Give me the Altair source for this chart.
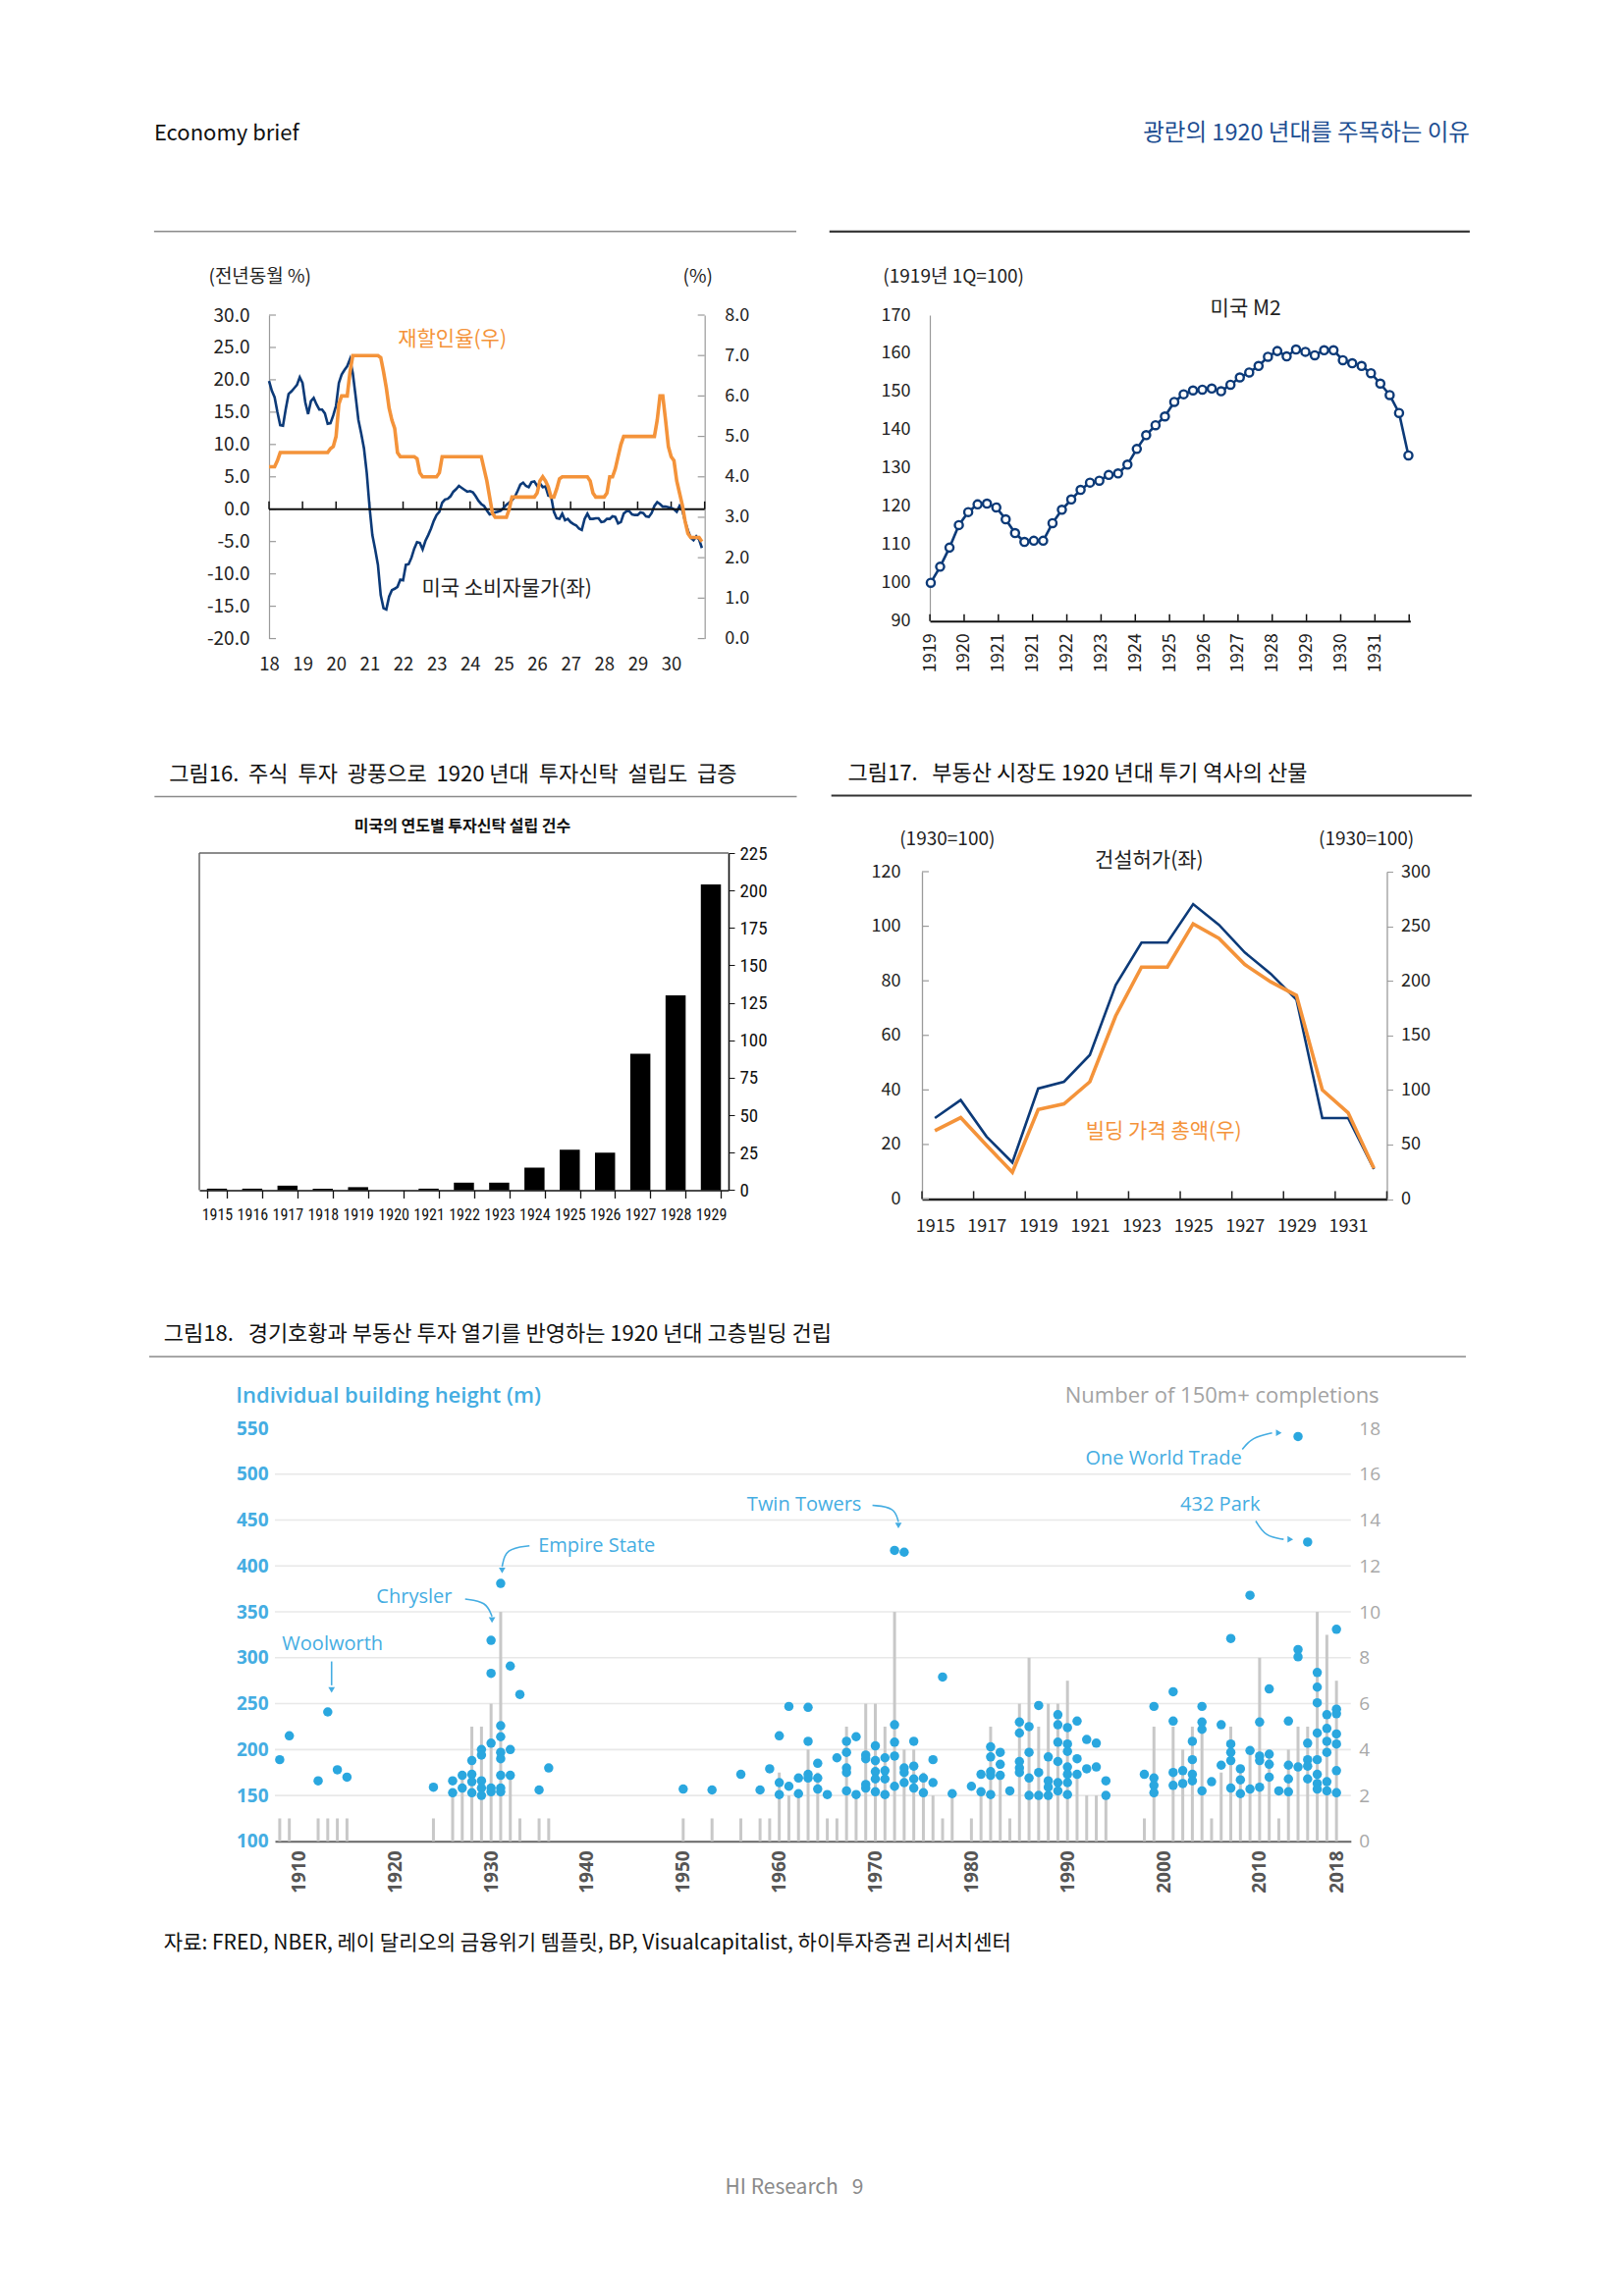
import json
import altair as alt
import pandas as pd

KR = "Noto Sans CJK KR"
LAT = "Open Sans"
NARROW = "'Liberation Sans Narrow', 'Roboto Condensed', 'DejaVu Sans Condensed', Roboto, sans-serif"
NAVY = "#0c3a78"
ORANGE = "#f4933a"
SKY = "#2aa7df"
SKY_TXT = "#45ade2"
DARK = "#222222"
GRAY_AX = "#9a9a9a"
SP = "\u00a0"
MINUS_FIX = "replace(format(datum.value, '.1f'), '\u2212', '-')"

# ---------------- data ----------------
# US CPI YoY (%), monthly Jan 1918 - Dec 1930
cpi_yoy = [
    19.8, 18.3, 17.3, 15.0, 13.0, 12.9, 15.5, 17.8, 18.2, 18.7, 19.2, 20.4,
    19.5, 16.5, 14.7, 16.7, 17.2, 16.2, 15.4, 15.4, 14.8, 13.2, 13.3, 14.5,
    16.0, 19.5, 20.8, 21.5, 22.1, 23.2, 21.0, 17.5, 13.8, 11.7, 9.4, 5.6,
    0.3, -4.0, -6.2, -8.6, -13.3, -15.3, -15.5, -13.5, -12.5, -12.3, -12.0, -10.9,
    -11.0, -8.6, -8.5, -7.5, -6.1, -5.1, -5.2, -6.2, -4.9, -4.0, -3.0, -1.8,
    -0.9, -0.4, 1.0, 1.5, 1.6, 2.0, 2.7, 3.1, 3.6, 3.3, 3.0, 2.7,
    2.8, 2.6, 2.0, 1.3, 0.8, 0.5, -0.2, -0.8, -0.7, -0.5, -0.4, -0.2,
    0.2, 0.7, 1.0, 1.4, 1.9, 2.8, 3.8, 4.1, 3.6, 3.4, 4.2, 4.3,
    3.6, 4.0, 3.4, 3.5, 2.1, 2.0, -0.4, -1.4, -1.5, -0.7, -1.7, -1.5,
    -2.0, -2.3, -2.5, -3.0, -3.2, -1.5, -0.7, -1.5, -1.5, -1.4, -1.4, -2.0,
    -1.9, -1.5, -1.5, -1.1, -1.2, -2.2, -2.0, -0.7, -0.3, -0.3, -0.8, -0.9,
    -0.9, -0.5, -0.6, -1.1, -1.2, -0.6, 0.5, 1.1, 0.8, 0.4, 0.4, 0.3,
    0.2, 0.0, -0.4, 0.5, -0.2, -1.9, -3.3, -4.4, -4.8, -4.2, -4.7, -6.0,
]
# Discount rate (%), monthly Jan 1918 - Dec 1930
discount_rate = [
    4.25, 4.25, 4.25, 4.4, 4.6, 4.6, 4.6, 4.6, 4.6, 4.6, 4.6, 4.6,
    4.6, 4.6, 4.6, 4.6, 4.6, 4.6, 4.6, 4.6, 4.6, 4.6, 4.7, 4.75,
    5.0, 5.8, 6.0, 6.0, 6.0, 6.6, 7.0, 7.0, 7.0, 7.0, 7.0, 7.0,
    7.0, 7.0, 7.0, 7.0, 6.95, 6.6, 6.2, 5.7, 5.4, 5.2, 4.6, 4.5,
    4.5, 4.5, 4.5, 4.5, 4.5, 4.45, 4.1, 4.0, 4.0, 4.0, 4.0, 4.0,
    4.0, 4.1, 4.5, 4.5, 4.5, 4.5, 4.5, 4.5, 4.5, 4.5, 4.5, 4.5,
    4.5, 4.5, 4.5, 4.5, 4.5, 4.2, 3.9, 3.5, 3.1, 3.0, 3.0, 3.0,
    3.0, 3.0, 3.2, 3.5, 3.5, 3.5, 3.5, 3.5, 3.5, 3.5, 3.5, 3.5,
    3.6, 3.9, 4.0, 3.9, 3.75, 3.5, 3.5, 3.7, 3.95, 4.0, 4.0, 4.0,
    4.0, 4.0, 4.0, 4.0, 4.0, 4.0, 4.0, 3.9, 3.6, 3.5, 3.5, 3.5,
    3.5, 3.6, 4.0, 4.0, 4.2, 4.5, 4.8, 5.0, 5.0, 5.0, 5.0, 5.0,
    5.0, 5.0, 5.0, 5.0, 5.0, 5.0, 5.0, 5.4, 6.0, 6.0, 5.4, 4.75,
    4.5, 4.4, 3.9, 3.6, 3.3, 2.9, 2.6, 2.5, 2.5, 2.5, 2.5, 2.4,
]
tl_tick_years = list(range(1918, 1932))

# US M2 (1919 1Q = 100), quarterly
m2_index = [100.0, 104.2, 109.2, 115.1, 118.5, 120.5, 120.7, 119.7, 116.6, 113.0,
            110.7, 111.0, 111.0, 115.6, 119.1, 121.8, 124.3, 126.2, 126.7, 128.2,
            128.6, 130.9, 135.0, 138.6, 141.2, 143.5, 147.3, 149.3, 150.3, 150.5,
            150.8, 150.1, 151.8, 153.7, 155.0, 156.7, 159.1, 160.6, 159.2, 161.0,
            160.4, 159.5, 160.8, 160.8, 158.2, 157.4, 156.7, 154.8, 152.1, 149.1,
            144.4, 133.3]
m2_labels = ["1919", "1920", "1921", "1921", "1922", "1923", "1924", "1925",
             "1926", "1927", "1928", "1929", "1930", "1931"]

# Investment trusts established per year
trust_years = list(range(1915, 1930))
trust_counts = [1, 1, 3, 1, 2, 0, 1, 5, 5, 15, 27, 25, 91, 130, 204]

# Real estate (1930 = 100)
re_years = list(range(1915, 1933))
permits = [29.7, 36.3, 22.9, 13.4, 40.5, 43.0, 52.8, 78.4, 94.0, 94.0,
           108.1, 100.5, 90.4, 82.6, 73.1, 29.7, 29.7, 11.0]
building_value = [62.7, 74.6, 49.3, 24.5, 82.1, 87.2, 107.5, 167.8, 212.5, 212.5,
                  252.2, 238.8, 214.9, 199.1, 186.6, 100.0, 79.1, 28.1]
re_label_years = list(range(1915, 1932, 2))
re_tick_pos = [1914.5 + 2 * k for k in range(10)]

# Skyscrapers: heights (m) by completion year, and number of 150m+ completions
tower_years = [1908, 1909, 1912, 1913, 1914, 1915, 1924, 1926, 1927, 1928, 1929, 1930,
               1931, 1932, 1933, 1935, 1936, 1950, 1953, 1956, 1958, 1959, 1960, 1961,
               1962, 1963, 1964, 1965, 1966, 1967, 1968, 1969, 1970, 1971, 1972, 1973,
               1974, 1975, 1976, 1977, 1978, 1980, 1981, 1982, 1983, 1984, 1985, 1986,
               1987, 1988, 1989, 1990, 1991, 1992, 1993, 1994, 1998, 1999, 2001, 2002,
               2003, 2004, 2005, 2006, 2007, 2008, 2009, 2010, 2011, 2012, 2013, 2014,
               2015, 2016, 2017, 2018]
tower_heights = [
    [189], [215], [166], [241], [178], [170], [159], [166, 153], [172, 158],
    [188, 173, 165, 153], [200, 194, 166, 158, 150], [319, 283, 207, 158, 154],
    [381, 226, 214, 197, 190, 172, 158, 154], [291, 200, 172], [260], [156], [180],
    [157], [156], [173], [156], [179], [215, 164, 151], [247, 160], [169, 152],
    [246, 209, 173, 169], [185, 169, 157], [151], [191], [209, 197, 180, 175, 155],
    [214, 151], [194, 190, 162, 158], [204, 188, 176, 168, 154], [191, 177, 168, 151],
    [417, 227, 208, 193, 160], [415, 180, 175, 164], [209, 182, 168, 158], [169, 153],
    [189, 164], [279], [152], [160], [173, 154], [203, 192, 176, 172, 151],
    [197, 184, 172], [155], [230, 218, 187, 180, 175], [225, 197, 169, 150],
    [248, 175, 150], [192, 166, 159, 150], [238, 227, 208, 187, 164, 155],
    [224, 206, 198, 181, 173, 164, 151], [231, 190, 173], [211, 179], [207, 181],
    [166, 150], [173], [247, 169, 161, 153], [263, 231, 175, 161], [177, 163],
    [209, 189, 173, 166], [247, 230, 222, 155], [165], [227, 183],
    [321, 206, 197, 188, 158], [179, 167, 152], [368, 199, 157], [230, 193, 188, 159],
    [266, 195, 184, 170], [155], [231, 183, 168, 154], [541, 309, 301, 181],
    [426, 207, 189, 182, 168], [284, 268, 251, 218, 189, 173, 163, 157],
    [238, 223, 209, 197, 165, 155], [331, 244, 239, 217, 206, 177, 153],
]
count_values = [1, 1, 1, 1, 1, 1,
                1, 2, 3, 5, 5, 6, 10, 3, 1, 1, 1,
                1, 1, 1, 1, 1,
                3, 2, 2, 4, 3, 1, 1, 5, 2, 6, 6, 5, 10, 4, 4, 3, 2, 1, 2,
                1, 2, 5, 3, 1, 6, 8, 5, 6, 6, 7, 3, 2, 2, 2,
                1, 5,
                5, 4, 5, 5, 1, 3, 5, 3, 4, 8, 4, 1, 4, 5, 5, 10, 9, 7]
assert len(tower_years) == len(tower_heights) == len(count_values)

ann_labels = ["Woolworth", "Chrysler", "Empire State", "Twin Towers", "One World Trade", "432 Park"]
ann_x = [1913.5, 1922.0, 1941.0, 1962.6, 2000.0, 2005.9]
ann_y = [315, 366, 422, 467, 517, 467]
arrow_id = [0, 0, 1, 1, 1, 2, 2, 2, 3, 3, 3, 4, 4, 4, 5, 5, 5]
arrow_x = [1913.4, 1913.4, 1927.3, 1929.5, 1930.1, 1934.0, 1931.5, 1931.15,
           1969.7, 1972.0, 1972.4, 2008.2, 2009.2, 2011.3, 2009.6, 2010.6, 2012.5]
arrow_y = [296, 270, 364, 361, 345, 422, 419, 399, 466, 464, 448, 527, 540, 545, 449, 432, 429]
head_x = [1913.4, 1930.1, 1931.15, 1972.4, 2012.0, 2013.2]
head_y = [265, 341, 395, 444, 545, 429]
head_shape = ["triangle-down", "triangle-down", "triangle-down", "triangle-down",
              "triangle-right", "triangle-right"]

# ---------------- layout helpers (page coordinates -> svg) ----------------
K = 0.9926
one = pd.DataFrame({"k": [0]})


def L(v):
    return K * v


def blank(x0, x1, y0, y1):
    return alt.Chart(one).mark_rect(fill="#ffffff", fillOpacity=0, strokeOpacity=0).encode(
        x=alt.value(x0), x2=alt.value(x1), y=alt.value(y0), y2=alt.value(y1))


def spacer():
    return blank(0, 1, 0, 1).properties(width=1, height=1)


def frame(region, o):
    rx0, ry0, rx1, ry1 = region
    return blank(L(rx0 - o[0]) + 1, L(rx1 - o[0]), L(ry0 - o[1]), L(ry1 - o[1]))


def txt(s, ax, ay, o, size=17, color=DARK, align="left", weight="normal", font=KR):
    return alt.Chart(pd.DataFrame({"s": [s]})).mark_text(
        align=align, baseline="middle", fontSize=size, color=color, font=font,
        fontWeight=weight).encode(text="s:N", x=alt.value(L(ax - o[0])), y=alt.value(L(ay - o[1])))


def hline(ax0, ax1, ay, o, color, width):
    return alt.Chart(one).mark_rule(color=color, strokeWidth=width).encode(
        x=alt.value(L(ax0 - o[0])), x2=alt.value(L(ax1 - o[0])), y=alt.value(L(ay - o[1])))


def rline(x0, x1, y0, y1, color, width):
    return alt.Chart(one).mark_rule(color=color, strokeWidth=width).encode(
        x=alt.value(x0), x2=alt.value(x1), y=alt.value(y0), y2=alt.value(y1))


PAGE_W = 1646
# ---------------- header ----------------
HO = (8, 8)
header = alt.layer(
    txt("Economy brief", 158, 137, HO, size=22, color="#111111"),
    txt("광란의 1920 년대를 주목하는 이유", 1508, 137, HO, size=23.5, color="#1d4e92", align="right"),
    hline(158, 817, 237.5, HO, "#8a8a8a", 1.5),
    hline(851, 1508, 237.5, HO, "#3a3a3a", 2.2),
).properties(width=L(PAGE_W - 8), height=L(245 - 8))

# ---------------- top-left: CPI & discount rate ----------------
O1 = (275, 322)
W1, H1 = L(722 - 275), L(654 - 322)
tl_df = pd.DataFrame({"t": [1918 + m / 12 for m in range(len(cpi_yoy))],
                      "cpi": cpi_yoy, "rate": discount_rate})
tl_xs = alt.Scale(domain=[1918, 1931], nice=False, zero=False)
tl_xa = alt.Axis(values=tl_tick_years[:-1], labelExpr="'' + (datum.value - 1900)",
                 labelFlush=False, domain=False, ticks=False, grid=False, labelPadding=17,
                 labelFontSize=18.5, labelColor=DARK, labelFont=KR, title=None)
tl_ls = alt.Scale(domain=[-20, 30], nice=False, zero=False)
tl_la = alt.Axis(orient="left", values=list(range(-20, 31, 5)), labelExpr=MINUS_FIX,
                 domainColor=GRAY_AX, domainWidth=1.2, ticks=False, grid=False, labelPadding=20,
                 labelFontSize=19, labelColor=DARK, labelFont=KR, title=None)
tl_rs = alt.Scale(domain=[0, 8], nice=False, zero=False)
tl_ra = alt.Axis(orient="right", values=list(range(0, 9)), format=".1f", domainColor=GRAY_AX,
                 domainWidth=1.2, ticks=False, grid=False, labelPadding=20, labelFontSize=18,
                 labelColor=DARK, labelFont=KR, title=None)

tl_zero = alt.Chart(pd.DataFrame({"v": [0]})).mark_rule(color="#111111", strokeWidth=2).encode(
    y=alt.Y("v:Q", scale=tl_ls, axis=tl_la))
tl_xt = alt.Chart(pd.DataFrame({"yr": tl_tick_years, "y0": 0, "y1": 1.2})).mark_rule(
    color="#111111", strokeWidth=1.5).encode(
    x=alt.X("yr:Q", scale=tl_xs, axis=tl_xa), y=alt.Y("y0:Q", scale=tl_ls, axis=tl_la), y2="y1:Q")
tl_lt = alt.Chart(pd.DataFrame({"v": list(range(-20, 31, 5))})).mark_rule(
    color=GRAY_AX, strokeWidth=1.2).encode(
    y=alt.Y("v:Q", scale=tl_ls, axis=tl_la), x=alt.value(0), x2=alt.value(7))
tl_cpi = alt.Chart(tl_df).mark_line(color=NAVY, strokeWidth=2.6).encode(
    x=alt.X("t:Q", scale=tl_xs, axis=tl_xa), y=alt.Y("cpi:Q", scale=tl_ls, axis=tl_la))
tl_rt = alt.Chart(pd.DataFrame({"v": list(range(0, 9))})).mark_rule(
    color=GRAY_AX, strokeWidth=1.2).encode(
    y=alt.Y("v:Q", scale=tl_rs, axis=tl_ra), x=alt.value(W1 - 7), x2=alt.value(W1))
tl_rate = alt.Chart(tl_df).mark_line(color=ORANGE, strokeWidth=3.6).encode(
    x=alt.X("t:Q", scale=tl_xs, axis=tl_xa), y=alt.Y("rate:Q", scale=tl_rs, axis=tl_ra))

tl = alt.layer(
    frame((8, 245, 850, 745), O1),
    alt.layer(tl_lt, tl_xt, tl_cpi, tl_zero),
    alt.layer(tl_rt, tl_rate),
    txt("(전년동월 %)", 213, 283, O1, size=19),
    txt("(%)", 715, 283, O1, size=19, align="center"),
    txt("재할인율(우)", 463, 347, O1, size=21, color=ORANGE, align="center"),
    txt("미국 소비자물가(좌)", 519, 603, O1, size=21, align="center"),
).resolve_scale(y="independent").properties(width=W1, height=H1)

# ---------------- top-right: M2 ----------------
O2 = (953, 322)
W2, H2 = L(1446 - 953), L(636 - 322)
m2_df = pd.DataFrame({"q": list(range(len(m2_index))), "m2": m2_index})
m2_tick_pos = [round(-0.09 + 3.655 * k, 3) for k in range(15)]
tr_xs = alt.Scale(domain=[-0.1, 51.2], nice=False, zero=False)
tr_xa = alt.Axis(values=m2_tick_pos,
                 labelExpr=json.dumps(m2_labels + [""]) + "[round((datum.value + 0.09) / 3.655)]",
                 labelAngle=270, labelFlush=False, labelFontSize=18, labelPadding=12,
                 labelColor=DARK, labelFont=KR, domainColor="#111111", domainWidth=2, ticks=False,
                 grid=False, title=None)
tr_ys = alt.Scale(domain=[90, 170], nice=False, zero=False)
tr_ya = alt.Axis(values=list(range(90, 171, 10)), domainColor=GRAY_AX, domainWidth=1.2,
                 ticks=False, grid=False, labelPadding=20, labelFontSize=18, labelColor=DARK,
                 labelFont=KR, title=None)
tr_ticks = alt.Chart(pd.DataFrame({"q": m2_tick_pos, "y0": 90, "y1": 91.8})).mark_rule(
    color="#111111", strokeWidth=1.5).encode(
    x=alt.X("q:Q", scale=tr_xs, axis=tr_xa), y=alt.Y("y0:Q", scale=tr_ys, axis=tr_ya), y2="y1:Q")
tr_line = alt.Chart(m2_df).mark_line(color=NAVY, strokeWidth=2.6).encode(
    x=alt.X("q:Q", scale=tr_xs, axis=tr_xa), y=alt.Y("m2:Q", scale=tr_ys, axis=tr_ya))
tr_pts = alt.Chart(m2_df).mark_circle(fill="#ffffff", stroke=NAVY, strokeWidth=2.4, size=66,
                                      opacity=1).encode(
    x=alt.X("q:Q", scale=tr_xs, axis=tr_xa), y=alt.Y("m2:Q", scale=tr_ys, axis=tr_ya))

tr = alt.layer(
    frame((850, 245, PAGE_W, 745), O2),
    tr_ticks, tr_line, tr_pts,
    txt("(1919년 1Q=100)", 905, 283, O2, size=19),
    txt("미국 M2", 1277, 316, O2, size=21, align="center"),
).properties(width=W2, height=H2)

# ---------------- figure 16: investment trusts ----------------
O3 = (204, 872)
W3, H3 = L(747 - 204), L(1218 - 872)
f16_df = pd.DataFrame({"yr": trust_years, "n": trust_counts})
f16_bars = alt.Chart(f16_df).mark_bar(color="#000000").encode(
    x=alt.X("yr:O", scale=alt.Scale(paddingInner=0.43, paddingOuter=0.215),
            axis=alt.Axis(tickBand="extent", tickSize=8, tickColor="#111111", tickWidth=1.3,
                          domainColor="#111111", domainWidth=1.6, labelAngle=0, labelFont=NARROW,
                          labelFontSize=16, labelPadding=9, labelColor="#111111", title=None)),
    y=alt.Y("n:Q", scale=alt.Scale(domain=[0, 225], nice=False),
            axis=alt.Axis(orient="right", values=list(range(0, 226, 25)), domainColor="#111111",
                          domainWidth=1.6, tickColor="#111111", tickSize=6, labelFont=NARROW,
                          labelFontSize=19, labelPadding=5, labelColor="#111111", grid=False,
                          title=None)),
)
f16 = alt.layer(
    frame((8, 745, 850, 1330), O3),
    rline(0, 0, 0, H3, "#666666", 1.5),
    rline(0, W3, 0, 0, "#666666", 1.5),
    f16_bars,
    txt("그림16." + SP * 2 + "주식" + SP + " 투자" + SP + " 광풍으로" + SP + " 1920 년대" + SP +
        " 투자신탁" + SP + " 설립도" + SP + " 급증", 173, 791, O3, size=22, color="#111111"),
    hline(158, 817, 814, O3, "#8a8a8a", 1.5),
    txt("미국의 연도별 투자신탁 설립 건수", 474, 845, O3, size=16, weight="bold", color="#111111",
        align="center"),
).properties(width=W3, height=H3)

# ---------------- figure 17: real estate ----------------
O4 = (944, 892)
W4, H4 = L(1421 - 944), L(1228 - 892)
f17_df = pd.DataFrame({"yr": re_years, "permits": permits, "value": building_value})
f17_xs = alt.Scale(domain=[1914.5, 1932.5], nice=False, zero=False)
f17_xa = alt.Axis(values=re_label_years, format="d", labelFlush=False, ticks=False, grid=False,
                  domainColor="#222222", domainWidth=2.5, labelPadding=19, labelFontSize=18,
                  labelColor=DARK, labelFont=KR, title=None)
f17_ls = alt.Scale(domain=[0, 120], nice=False, zero=False)
f17_la = alt.Axis(orient="left", values=list(range(0, 121, 20)), domainColor=GRAY_AX,
                  domainWidth=1.3, ticks=False, grid=False, labelPadding=22, labelFontSize=18,
                  labelColor=DARK, labelFont=KR, title=None)
f17_rs = alt.Scale(domain=[0, 300], nice=False, zero=False)
f17_ra = alt.Axis(orient="right", values=list(range(0, 301, 50)), domainColor=GRAY_AX,
                  domainWidth=1.3, tickColor=GRAY_AX, tickSize=6, grid=False, labelPadding=8,
                  labelFontSize=18, labelColor=DARK, labelFont=KR, title=None)
f17_lt = alt.Chart(pd.DataFrame({"v": list(range(0, 121, 20))})).mark_rule(
    color=GRAY_AX, strokeWidth=1.2).encode(
    y=alt.Y("v:Q", scale=f17_ls, axis=f17_la), x=alt.value(0), x2=alt.value(7))
f17_bt = alt.Chart(pd.DataFrame({"yr": re_tick_pos, "y0": 0, "y1": 2.9})).mark_rule(
    color="#222222", strokeWidth=1.5).encode(
    x=alt.X("yr:Q", scale=f17_xs, axis=f17_xa), y=alt.Y("y0:Q", scale=f17_ls, axis=f17_la),
    y2="y1:Q")
f17_perm = alt.Chart(f17_df).mark_line(color=NAVY, strokeWidth=2.6).encode(
    x=alt.X("yr:Q", scale=f17_xs, axis=f17_xa), y=alt.Y("permits:Q", scale=f17_ls, axis=f17_la))
f17_val = alt.Chart(f17_df).mark_line(color=ORANGE, strokeWidth=3.6).encode(
    x=alt.X("yr:Q", scale=f17_xs, axis=f17_xa), y=alt.Y("value:Q", scale=f17_rs, axis=f17_ra))

f17 = alt.layer(
    frame((850, 745, PAGE_W, 1330), O4),
    alt.layer(f17_lt, f17_bt, f17_perm),
    alt.layer(f17_val),
    txt("그림17." + SP * 3 + "부동산 시장도 1920 년대 투기 역사의 산물", 868, 791, O4, size=22,
        color="#111111"),
    hline(851, 1508, 814, O4, "#333333", 2),
    txt("(1930=100)", 970, 859, O4, size=19, align="center"),
    txt("(1930=100)", 1400, 859, O4, size=19, align="center"),
    txt("건설허가(좌)", 1177, 881, O4, size=21, align="center"),
    txt("빌딩 가격 총액(우)", 1192, 1159, O4, size=21, color=ORANGE, align="center"),
).resolve_scale(y="independent").properties(width=W4, height=H4)

# ---------------- figure 18: skyscrapers ----------------
O5 = (282, 1461.5)
W5, H5 = L(1386 - 282), L(1885.5 - 1461.5)
dots_df = pd.DataFrame([(y, h) for y, hs in zip(tower_years, tower_heights) for h in hs],
                       columns=["yr", "h"])
cnt_df = pd.DataFrame({"yr": tower_years, "c": count_values, "z": 0})
ann_df = pd.DataFrame({"yr": ann_x, "h": ann_y, "s": ann_labels})
arrow_df = pd.DataFrame({"id": arrow_id, "yr": arrow_x, "h": arrow_y,
                         "o": list(range(len(arrow_id)))})
head_df = pd.DataFrame({"yr": head_x, "h": head_y, "shape": head_shape})

f18_xs = alt.Scale(domain=[1907.5, 2019.5], nice=False, zero=False)
f18_xa = alt.Axis(values=[1910, 1920, 1930, 1940, 1950, 1960, 1970, 1980, 1990, 2000, 2010, 2018],
                  format="d", labelAngle=270, labelFlush=False, labelFont=LAT,
                  labelFontWeight="bold", labelColor="#555555", labelFontSize=19, labelPadding=9,
                  ticks=False, domainColor="#666666", domainWidth=2, grid=False, title=None)
hs_scale = alt.Scale(domain=[100, 550], nice=False, zero=False)
hs_axis = alt.Axis(orient="left", values=list(range(100, 551, 50)), labelColor=SKY_TXT,
                   labelFontWeight="bold", labelFont=LAT, labelFontSize=19, labelPadding=7,
                   domain=False, ticks=False, grid=False, title=None)
cs_scale = alt.Scale(domain=[0, 18], nice=False, zero=False)
cs_axis = alt.Axis(orient="right", values=list(range(0, 19, 2)), labelColor="#a8a8a8",
                   labelFont=LAT, labelFontSize=19, labelPadding=8, domain=False, ticks=False,
                   grid=False, title=None)

f18_grid = alt.Chart(pd.DataFrame({"g": list(range(150, 501, 50))})).mark_rule(
    color="#e8e8e8", strokeWidth=1.6).encode(y=alt.Y("g:Q", scale=hs_scale, axis=None))
f18_bars = alt.Chart(cnt_df).mark_rule(color="#c8c8c8", strokeWidth=3).encode(
    x=alt.X("yr:Q", scale=f18_xs, axis=f18_xa), y=alt.Y("c:Q", scale=cs_scale, axis=cs_axis),
    y2="z:Q")
f18_dots = alt.Chart(dots_df).mark_circle(color=SKY, size=90, opacity=1).encode(
    x=alt.X("yr:Q", scale=f18_xs, axis=f18_xa), y=alt.Y("h:Q", scale=hs_scale, axis=hs_axis))
f18_arrows = alt.Chart(arrow_df).mark_line(color=SKY_TXT, strokeWidth=1.6, interpolate="basis").encode(
    x=alt.X("yr:Q", scale=f18_xs, axis=f18_xa), y=alt.Y("h:Q", scale=hs_scale, axis=hs_axis),
    detail="id:N", order="o:Q")
f18_heads = alt.Chart(head_df).mark_point(filled=True, color=SKY_TXT, size=45, opacity=1).encode(
    x=alt.X("yr:Q", scale=f18_xs, axis=f18_xa), y=alt.Y("h:Q", scale=hs_scale, axis=hs_axis),
    shape=alt.Shape("shape:N", scale=None))
f18_ann = alt.Chart(ann_df).mark_text(font=LAT, fontSize=20, color=SKY_TXT, align="center",
                                      baseline="middle").encode(
    x=alt.X("yr:Q", scale=f18_xs, axis=f18_xa), y=alt.Y("h:Q", scale=hs_scale, axis=hs_axis),
    text="s:N")

f18 = alt.layer(
    frame((8, 1330, PAGE_W, 1960), O5),
    f18_grid,
    f18_bars,
    alt.layer(f18_dots, f18_arrows, f18_heads, f18_ann),
    txt("그림18." + SP * 3 + "경기호황과 부동산 투자 열기를 반영하는 1920 년대 고층빌딩 건립", 168, 1365,
        O5, size=22, color="#111111"),
    hline(153, 1504, 1388, O5, "#8a8a8a", 1.5),
    txt("Individual building height (m)", 242, 1428.5, O5, size=22, color=SKY_TXT, font=LAT,
        weight=600),
    txt("Number of 150m+ completions", 1415, 1428.5, O5, size=22, color="#a3a3a3", font=LAT,
        align="right"),
).resolve_scale(y="independent").properties(width=W5, height=H5)

# ---------------- footer ----------------
FO = (8, 1960)
footer = alt.layer(
    txt("자료: FRED, NBER, 레이 달리오의 금융위기 템플릿, BP, Visualcapitalist, 하이투자증권 리서치센터",
        168, 1990, FO, size=21, color="#111111"),
    txt("HI Research" + SP * 3 + "9", 815, 2241, FO, size=21, color="#8a8a8a", align="center"),
).properties(width=L(PAGE_W - 8), height=L(2320 - 1960))


def vwrap(panel):
    return alt.vconcat(spacer(), panel, spacing=0)


row2 = alt.hconcat(spacer(), tl, tr, spacing=0)
row3 = alt.hconcat(spacer(), vwrap(f16), vwrap(f17), spacing=0)
row4 = alt.hconcat(spacer(), f18, spacing=0)

chart = alt.vconcat(header, row2, row3, row4, footer, spacing=0).properties(
    padding=0
).configure(font=KR).configure_view(stroke=None)

chart.save("out.html", embed_options={"renderer": "svg", "actions": False})
